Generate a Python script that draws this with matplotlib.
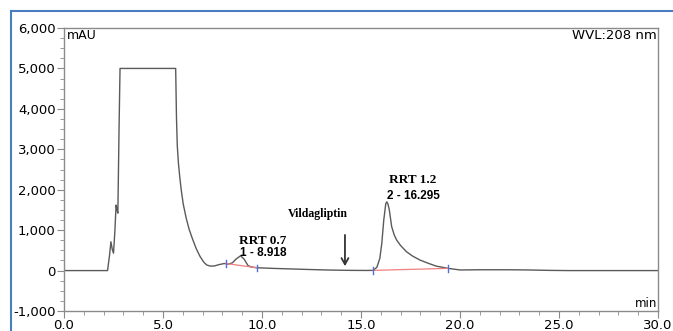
import matplotlib
matplotlib.use("Agg")
import matplotlib.pyplot as plt
from matplotlib.lines import Line2D
from matplotlib.ticker import MultipleLocator, FuncFormatter

# chromatogram trace (min, mAU)
time_min = [0.0, 2.20, 2.30, 2.37, 2.44, 2.50, 2.57, 2.63, 2.68, 2.72, 2.78, 2.83,
            5.64, 5.68, 5.72, 5.78, 5.85, 5.92, 6.02, 6.17, 6.32, 6.50, 6.68, 6.87,
            7.05, 7.20, 7.40, 7.60, 7.85, 8.10, 8.30, 8.50, 8.70, 8.92, 9.10, 9.30,
            9.50, 9.75, 10.5, 11.5, 12.5, 13.5, 14.5, 15.3, 15.62, 15.80, 15.95, 16.05,
            16.15, 16.25, 16.30, 16.36, 16.43, 16.55, 16.68, 16.80, 17.00, 17.30, 17.60,
            17.98, 18.40, 18.80, 19.40, 20.0, 21.0, 22.5, 23.5, 24.5, 25.5, 30.0]
signal_mau = [0, 0, 380, 713, 520, 430, 980, 1620, 1500, 1420, 3500, 5000,
              5000, 3800, 3100, 2650, 2300, 2000, 1650, 1300, 1020, 770, 540, 350,
              215, 140, 110, 115, 150, 175, 160, 190, 290, 366, 280, 120,
              85, 70, 55, 40, 25, 12, 5, 3, 5, 80, 300, 670,
              1250, 1650, 1700, 1650, 1500, 1085, 880, 755, 620, 465, 360,
              260, 180, 110, 55, 15, 20, 20, 15, 5, 0, 0]

# integration baselines (start, end) for the two peaks
base_t = [(8.18, 9.73), (15.62, 19.40)]
base_v = [(175, 70), (5, 55)]

peak_names = ["RRT 0.7", "RRT 1.2"]
peak_ids = ["1 - 8.918", "2 - 16.295"]
label_t = [10.05, 17.63]
label_v = [(730, 430), (2240, 1845)]

marker_t = 14.19
marker_name = "Vildagliptin"

fig = plt.figure(figsize=(6.73, 3.31), dpi=100)
ax = fig.add_axes([0.0951, 0.0604, 0.8826, 0.855])

ax.plot(time_min, signal_mau, color="#5a5a5a", lw=1.0)

for (t0, t1), (v0, v1) in zip(base_t, base_v):
    ax.plot([t0, t1], [v0, v1], color="#f08080", lw=0.9)
    for t, v in ((t0, v0), (t1, v1)):
        ax.plot([t, t], [v - 80, v + 80], color="#4f6fd8", lw=1.0)

for name, pid, t, (v1, v2) in zip(peak_names, peak_ids, label_t, label_v):
    ax.text(t, v1, name, ha="center", va="center", fontsize=9.5,
            fontweight="bold", family="Liberation Serif")
    ax.text(t, v2, pid, ha="center", va="center", fontsize=8.5,
            fontweight="bold", family="Liberation Sans")

ax.text(marker_t - 1.35, 1400, marker_name, ha="center", va="center",
        fontsize=8.5, fontweight="bold", family="Liberation Serif")
ax.annotate("", xy=(marker_t, 40), xytext=(marker_t, 950),
            arrowprops=dict(arrowstyle="->,head_width=0.25,head_length=0.45",
                            color="#333333", lw=1.3))

ax.set_xlim(0, 30)
ax.set_ylim(-1000, 6000)
ax.xaxis.set_major_locator(MultipleLocator(5))
ax.xaxis.set_minor_locator(MultipleLocator(1))
ax.yaxis.set_major_locator(MultipleLocator(1000))
ax.yaxis.set_minor_locator(MultipleLocator(250))
ax.xaxis.set_major_formatter(FuncFormatter(lambda x, p: "%.1f" % x))
ax.yaxis.set_major_formatter(FuncFormatter(lambda y, p: "{:,.0f}".format(y)))

gray = "#8a8a8a"
for s in ax.spines.values():
    s.set_color(gray)
    s.set_linewidth(1.0)
ax.tick_params(which="both", color=gray, direction="out", labelsize=9.5,
               labelcolor="black", pad=1)
ax.tick_params(which="major", length=5)
ax.tick_params(which="minor", length=3)

ax.text(0.005, 0.995, "mAU", transform=ax.transAxes, ha="left", va="top", fontsize=9)
ax.text(0.998, 0.995, "WVL:208 nm", transform=ax.transAxes, ha="right", va="top",
        fontsize=9.5, clip_on=True)
ax.text(0.998, 0.005, "min", transform=ax.transAxes, ha="right", va="bottom", fontsize=8.5)

# blue frame of the screenshot
blue = "#4a7cc0"
fig.add_artist(Line2D([0.0163, 0.0163], [0, 0.9668], color=blue, lw=1.5))
fig.add_artist(Line2D([0.0163, 1.0], [0.9668, 0.9668], color=blue, lw=1.5))

fig.savefig("out.png", dpi=100)
